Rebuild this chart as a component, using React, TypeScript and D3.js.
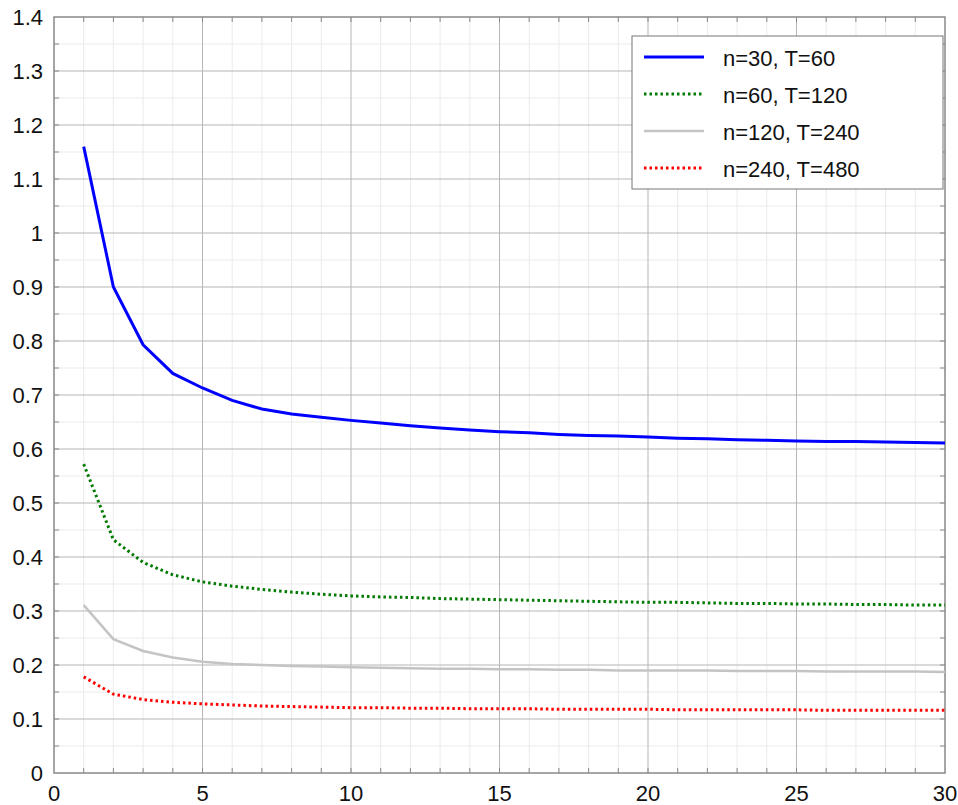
import { useRef, useEffect } from 'react'
import * as d3 from 'd3'

const xs = d3.range(1, 31)
const blue = [1.16, 0.9, 0.793, 0.74, 0.713, 0.69, 0.674, 0.665, 0.659, 0.653, 0.648, 0.643, 0.639, 0.635, 0.632, 0.63, 0.627, 0.625, 0.624, 0.622, 0.62, 0.619, 0.617, 0.616, 0.615, 0.614, 0.614, 0.613, 0.612, 0.611]
const green = [0.572, 0.432, 0.39, 0.367, 0.354, 0.346, 0.34, 0.335, 0.331, 0.328, 0.326, 0.325, 0.323, 0.322, 0.321, 0.32, 0.319, 0.318, 0.317, 0.316, 0.316, 0.315, 0.314, 0.314, 0.313, 0.313, 0.312, 0.312, 0.311, 0.311]
const gray = [0.311, 0.248, 0.226, 0.214, 0.206, 0.202, 0.2, 0.198, 0.197, 0.196, 0.195, 0.194, 0.193, 0.193, 0.192, 0.192, 0.191, 0.191, 0.19, 0.19, 0.19, 0.19, 0.189, 0.189, 0.189, 0.188, 0.188, 0.188, 0.188, 0.187]
const red = [0.178, 0.146, 0.136, 0.131, 0.128, 0.126, 0.124, 0.123, 0.122, 0.121, 0.121, 0.12, 0.12, 0.119, 0.119, 0.119, 0.118, 0.118, 0.118, 0.118, 0.117, 0.117, 0.117, 0.117, 0.117, 0.116, 0.116, 0.116, 0.116, 0.116]
const labels = ['n=30, T=60', 'n=60, T=120', 'n=120, T=240', 'n=240, T=480']
const xTicks = [0, 5, 10, 15, 20, 25, 30]
const yTicks = [0, 0.1, 0.2, 0.3, 0.4, 0.5, 0.6, 0.7, 0.8, 0.9, 1, 1.1, 1.2, 1.3, 1.4]

function App() {
  const ref = useRef<SVGSVGElement>(null)
  useEffect(() => {
    const svg = d3.select(ref.current)
    svg.selectAll('*').remove()
    const left = 54, right = 945, top = 17, bottom = 773
    const x = d3.scaleLinear().domain([0, 30]).range([left, right])
    const y = d3.scaleLinear().domain([0, 1.4]).range([bottom, top])
    const font = 'Liberation Sans, Arial, sans-serif'

    // minor grid
    svg.append('g').selectAll('line').data(d3.range(1, 30).filter(d => d % 5 !== 0)).enter().append('line')
      .attr('x1', d => x(d)).attr('x2', d => x(d)).attr('y1', top).attr('y2', bottom)
      .attr('stroke', '#ebebeb').attr('stroke-width', 1)
    svg.append('g').selectAll('line').data(d3.range(0.05, 1.4, 0.1)).enter().append('line')
      .attr('y1', d => y(d)).attr('y2', d => y(d)).attr('x1', left).attr('x2', right)
      .attr('stroke', '#ebebeb').attr('stroke-width', 1)
    // major grid
    svg.append('g').selectAll('line').data(xTicks.slice(1, -1)).enter().append('line')
      .attr('x1', d => x(d)).attr('x2', d => x(d)).attr('y1', top).attr('y2', bottom)
      .attr('stroke', '#b5b5b5').attr('stroke-width', 1)
    svg.append('g').selectAll('line').data(yTicks.slice(1, -1)).enter().append('line')
      .attr('y1', d => y(d)).attr('y2', d => y(d)).attr('x1', left).attr('x2', right)
      .attr('stroke', '#b5b5b5').attr('stroke-width', 1)

    // inward ticks
    const tk = svg.append('g').attr('stroke', '#888').attr('stroke-width', 1)
    d3.range(1, 30).forEach(d => {
      tk.append('line').attr('x1', x(d)).attr('x2', x(d)).attr('y1', bottom).attr('y2', bottom - 5)
      tk.append('line').attr('x1', x(d)).attr('x2', x(d)).attr('y1', top).attr('y2', top + 5)
    })
    d3.range(0.05, 1.4, 0.05).forEach(d => {
      tk.append('line').attr('y1', y(d)).attr('y2', y(d)).attr('x1', left).attr('x2', left + 5)
      tk.append('line').attr('y1', y(d)).attr('y2', y(d)).attr('x1', right).attr('x2', right - 5)
    })

    // frame
    svg.append('rect').attr('x', left).attr('y', top).attr('width', right - left).attr('height', bottom - top)
      .attr('fill', 'none').attr('stroke', '#888').attr('stroke-width', 1.5)

    // tick labels
    svg.append('g').selectAll('text').data(yTicks).enter().append('text')
      .attr('x', left - 11).attr('y', d => y(d) + 8)
      .attr('text-anchor', 'end').style('font', '22px ' + font).attr('fill', '#111')
      .text(d => String(d))
    svg.append('g').selectAll('text').data(xTicks).enter().append('text')
      .attr('x', d => x(d)).attr('y', 801)
      .attr('text-anchor', 'middle').style('font', '22px ' + font).attr('fill', '#111')
      .text(d => String(d))

    const series = [
      { v: blue, color: '#0000ff', w: 3, dash: null },
      { v: green, color: '#007a00', w: 3, dash: '2.5 3' },
      { v: gray, color: '#c4c4c4', w: 2.5, dash: null },
      { v: red, color: '#ff0000', w: 3, dash: '2.5 3' },
    ]
    const line = d3.line<number>().x((d, i) => x(xs[i])).y(d => y(d))
    series.forEach(s => {
      const p = svg.append('path').attr('d', line(s.v)).attr('fill', 'none')
        .attr('stroke', s.color).attr('stroke-width', s.w)
      if (s.dash) p.attr('stroke-dasharray', s.dash)
    })

    // legend
    const lg = svg.append('g')
    lg.append('rect').attr('x', 632).attr('y', 36).attr('width', 311).attr('height', 153)
      .attr('fill', 'white').attr('stroke', '#777').attr('stroke-width', 1)
    series.forEach((s, i) => {
      const yy = 57 + i * 37
      const l = lg.append('line').attr('x1', 644).attr('x2', 704).attr('y1', yy).attr('y2', yy)
        .attr('stroke', s.color).attr('stroke-width', s.w)
      if (s.dash) l.attr('stroke-dasharray', s.dash)
      lg.append('text').attr('x', 723).attr('y', yy + 9).style('font', '22px ' + font)
        .attr('fill', '#111').text(labels[i])
    })
  }, [])

  return (
    <svg ref={ref} width={958} height={805} style={{ position: 'absolute', left: 0, top: 0, background: 'white' }} />
  )
}

export default App
